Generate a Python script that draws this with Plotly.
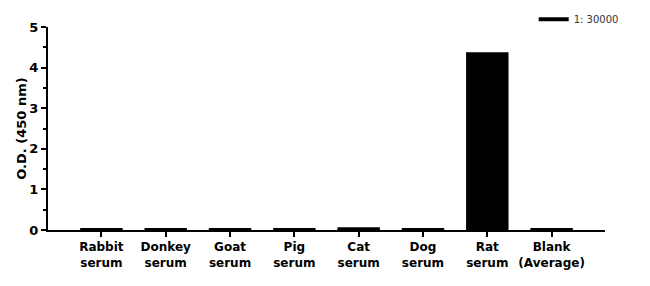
import plotly.graph_objects as go

categories = ["Rabbit<br>serum", "Donkey<br>serum", "Goat<br>serum", "Pig<br>serum",
              "Cat<br>serum", "Dog<br>serum", "Rat<br>serum", "Blank<br>(Average)"]
values = [0.05, 0.05, 0.05, 0.05, 0.07, 0.05, 4.38, 0.05]
series_name = "1: 30000"

fig = go.Figure()
fig.add_trace(go.Bar(x=list(range(len(categories))), y=values, marker_color="black",
                     marker_line_width=0, width=0.66, showlegend=False))
fig.add_trace(go.Scatter(x=[None], y=[None], mode="lines", name=series_name,
                         line=dict(color="black", width=4)))

fig.update_layout(
    width=650, height=286,
    margin=dict(l=48, r=45, t=27, b=56, autoexpand=False),
    plot_bgcolor="white", paper_bgcolor="white",
    font=dict(family="DejaVu Sans", color="black"),
    legend=dict(x=0.872, y=1.11, xanchor="left", yanchor="top",
                font=dict(size=10, color="#333"), itemwidth=30,
                bgcolor="rgba(0,0,0,0)"),
    xaxis=dict(range=[-0.83, 7.83], tickmode="array",
               tickvals=list(range(len(categories))), ticktext=categories,
               showline=True, linecolor="black", linewidth=2,
               ticks="outside", ticklen=5, tickwidth=1.5, tickcolor="black",
               showgrid=False, zeroline=False,
               tickfont=dict(size=12, weight="bold")),
    yaxis=dict(range=[0, 5], tickvals=[0, 1, 2, 3, 4, 5],
               showline=True, linecolor="black", linewidth=2,
               ticks="outside", ticklen=5, tickwidth=1.5, tickcolor="black",
               minor=dict(dtick=0.5, ticks="outside", ticklen=3, tickwidth=1.5, tickcolor="black"),
               showgrid=False, zeroline=False,
               tickfont=dict(size=13, weight="bold"),
               title=dict(text="O.D. (450 nm)", font=dict(size=13, weight="bold"), standoff=0)),
)

fig.write_html("out.html")
